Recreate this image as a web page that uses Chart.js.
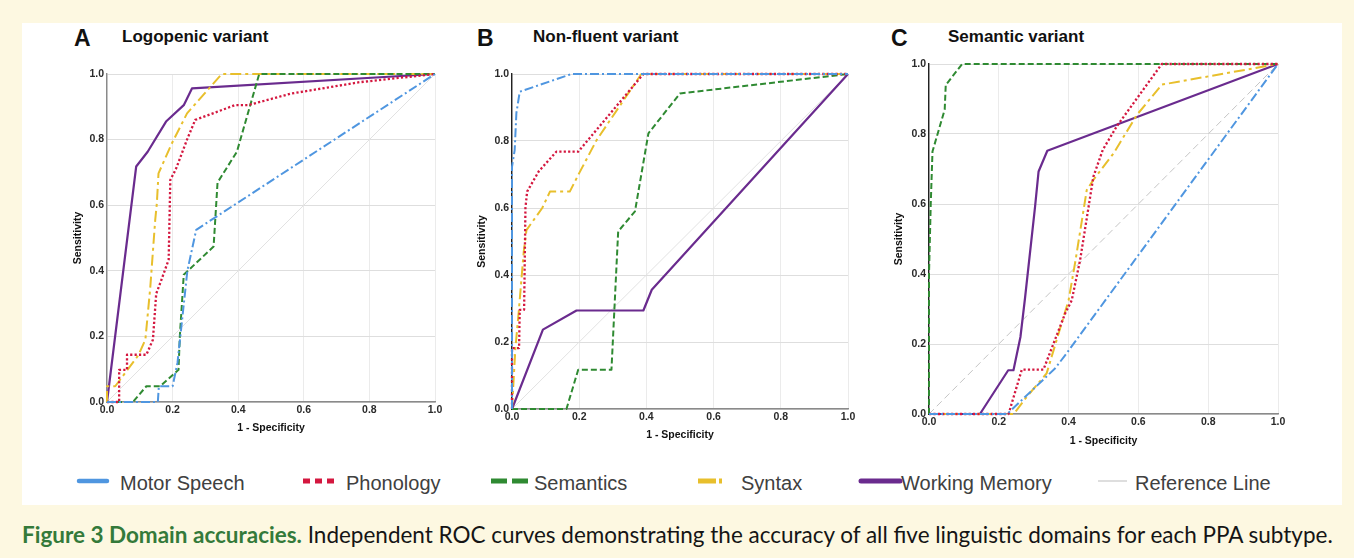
<!DOCTYPE html>
<html>
<head>
<meta charset="utf-8">
<script src="https://cdn.jsdelivr.net/npm/chart.js@4.4.1/dist/chart.umd.min.js"></script>
<style>
    html, body { margin: 0; padding: 0; }
    body { width: 1354px; height: 558px; background: #fdf8e1; position: relative; overflow: hidden;
           font-family: "Liberation Sans", Arial, sans-serif; }
    #panel { position: absolute; left: 22px; top: 23px; width: 1320px; height: 482px; background: #fff; }
    canvas { position: absolute; }
    .lbl { position: absolute; font-weight: bold; color: #111; white-space: nowrap; line-height: 1; }
    .letter { font-size: 23px; }
    .ttl { font-size: 17px; }
    .leg { position: absolute; top: 472px; font-size: 20px; color: #404040; line-height: 22px; white-space: nowrap; }
    svg.sw { position: absolute; top: 476px; overflow: visible; }
    #caption { position: absolute; left: 22px; top: 521px; font-family: Lato, "Open Sans", sans-serif;
               font-size: 19px; color: #151515; white-space: nowrap; }
    #caption b { color: #347a3a; }
</style>
</head>
<body>
<div id="panel"></div>

<div class="lbl letter" style="left:74px;top:27px;">A</div>
<div class="lbl ttl" style="left:122px;top:28px;">Logopenic variant</div>
<div class="lbl letter" style="left:477px;top:27px;">B</div>
<div class="lbl ttl" style="left:533px;top:28px;">Non-fluent variant</div>
<div class="lbl letter" style="left:891px;top:27px;">C</div>
<div class="lbl ttl" style="left:948px;top:28px;">Semantic variant</div>

<canvas id="chart-lv"></canvas>
<canvas id="chart-nf"></canvas>
<canvas id="chart-sv"></canvas>

<div id="legend"></div>

<div id="caption"><b>Figure 3 Domain accuracies.</b> Independent ROC curves demonstrating the accuracy of all five linguistic domains for each PPA subtype.</div>

<script>
// ── Data ──────────────────────────────────────────────────────────────
const domains    = ['Motor Speech', 'Phonology', 'Semantics', 'Syntax', 'Working Memory'];
const refLabel   = 'Reference Line';
const axisTicks  = [0, 0.2, 0.4, 0.6, 0.8, 1.0];
const tickLabels = ['0.0', '0.2', '0.4', '0.6', '0.8', '1.0'];
const refLine    = [[0, 0], [1, 1]];

// A — logopenic variant  ([1 - specificity, sensitivity])
const lvMotor  = [[0,0],[0.155,0],[0.158,0.048],[0.2,0.048],[0.215,0.12],[0.245,0.4],[0.272,0.525],[1,1]];
const lvPhono  = [[0,0],[0.037,0],[0.037,0.098],[0.061,0.098],[0.061,0.144],[0.12,0.144],[0.14,0.19],[0.15,0.33],
                  [0.165,0.37],[0.188,0.434],[0.193,0.677],[0.21,0.71],[0.244,0.8],[0.269,0.86],[0.39,0.905],
                  [0.43,0.905],[0.56,0.94],[0.77,0.975],[1,1]];
const lvSeman  = [[0,0],[0.079,0],[0.12,0.048],[0.162,0.048],[0.218,0.098],[0.222,0.2],[0.234,0.388],[0.325,0.474],
                  [0.337,0.669],[0.396,0.763],[0.464,1],[1,1]];
const lvSyntax = [[0,0],[0,0.048],[0.025,0.048],[0.096,0.143],[0.117,0.19],[0.132,0.35],[0.147,0.555],[0.152,0.606],
                  [0.157,0.697],[0.198,0.789],[0.244,0.88],[0.35,1],[1,1]];
const lvMemory = [[0,0],[0.089,0.718],[0.124,0.763],[0.18,0.855],[0.234,0.905],[0.259,0.956],[1,1]];

// B — non-fluent variant
const nfMotor  = [[0,0],[0,0.723],[0.008,0.773],[0.013,0.883],[0.023,0.947],[0.177,1],[1,1]];
const nfPhono  = [[0,0],[0,0.182],[0.021,0.182],[0.023,0.296],[0.036,0.296],[0.04,0.6],[0.045,0.649],[0.08,0.71],
                  [0.132,0.768],[0.197,0.768],[0.391,1],[1,1]];
const nfSeman  = [[0,0],[0.162,0],[0.197,0.117],[0.296,0.117],[0.316,0.53],[0.366,0.59],[0.406,0.823],[0.5,0.942],[1,1]];
const nfSyntax = [[0,0],[0.01,0.18],[0.02,0.29],[0.035,0.47],[0.043,0.534],[0.09,0.6],[0.113,0.649],[0.172,0.649],
                  [0.2,0.704],[0.252,0.803],[0.385,1],[1,1]];
const nfMemory = [[0,0],[0.092,0.237],[0.192,0.294],[0.391,0.294],[0.416,0.356],[1,1]];

// C — semantic variant
const svMotor  = [[0,0],[0.224,0],[0.361,0.13],[0.394,0.173],[1,1]];
const svPhono  = [[0,0],[0.228,0],[0.266,0.127],[0.328,0.127],[0.39,0.287],[0.409,0.325],[0.433,0.44],[0.471,0.678],
                  [0.498,0.755],[0.538,0.822],[0.667,1],[1,1]];
const svSeman  = [[0,0],[0,0.4],[0.005,0.6],[0.01,0.75],[0.045,0.87],[0.048,0.94],[0.095,1],[1,1]];
const svSyntax = [[0,0],[0.243,0],[0.28,0.049],[0.337,0.116],[0.4,0.325],[0.42,0.44],[0.452,0.64],[0.471,0.669],
                  [0.529,0.745],[0.596,0.855],[0.667,0.941],[1,1]];
const svMemory = [[0,0],[0.146,0],[0.227,0.125],[0.242,0.125],[0.262,0.22],[0.275,0.33],[0.304,0.593],[0.314,0.693],
                  [0.339,0.752],[1,1]];

// ── Styles ────────────────────────────────────────────────────────────
const FONT         = '"Liberation Sans", Arial, sans-serif';
const domainColors = ['#4f96e0', '#d4173f', '#2f8a32', '#e8bf2c', '#6a2b8e'];
const domainDashes = [[9, 3, 2, 3], [2.2, 2.2], [6, 3], [11, 4, 3, 4], []];
const domainWidths = [2, 2.3, 2, 2, 2.2];

// ── Panels ────────────────────────────────────────────────────────────
function buildPanel(id, curves, g) {
    const el = document.getElementById(id);
    el.width = g.w; el.height = g.h;
    el.style.left = g.left + 'px'; el.style.top = g.top + 'px';

    const datasets = curves.map((pts, i) => ({
        label: domains[i],
        data: pts.map(p => ({ x: p[0], y: p[1] })),
        borderColor: domainColors[i],
        borderWidth: domainWidths[i],
        borderDash: domainDashes[i],
        borderCapStyle: 'butt',
        borderJoinStyle: 'round',
        showLine: true, pointRadius: 0, tension: 0, fill: false, clip: false
    }));
    datasets.push({
        label: refLabel,
        data: refLine.map(p => ({ x: p[0], y: p[1] })),
        borderColor: g.refColor, borderWidth: 1, borderDash: g.refDash,
        showLine: true, pointRadius: 0, fill: false, order: 10
    });

    const tickFont  = { size: 10.5, weight: 'bold', family: FONT };
    const titleFont = { size: 10.5, weight: 'bold', family: FONT };
    const setTicks  = s => { s.ticks = axisTicks.map(v => ({ value: v })); };

    return new Chart(el, {
        type: 'scatter',
        data: { datasets },
        options: {
            responsive: false, animation: false, events: [],
            layout: { padding: { top: g.pt, right: g.pr, left: 0, bottom: 0 } },
            plugins: { legend: { display: false }, tooltip: { enabled: false } },
            scales: {
                x: {
                    type: 'linear', min: 0, max: 1,
                    afterBuildTicks: setTicks,
                    afterFit: s => { s.height = g.hx; },
                    ticks: { callback: (v, i) => tickLabels[i], padding: 2, color: '#2a2a2a', font: tickFont,
                             maxRotation: 0, autoSkip: false },
                    grid: { color: '#ebebeb', drawTicks: false },
                    border: { color: '#8a8a8a', width: 1.6 },
                    title: { display: true, text: '1 - Specificity', color: '#111', font: titleFont,
                             padding: { top: 0, bottom: g.xtp } }
                },
                y: {
                    type: 'linear', min: 0, max: 1,
                    afterBuildTicks: setTicks,
                    afterFit: s => { s.width = g.wy; },
                    ticks: { callback: (v, i) => tickLabels[i], padding: 3, color: '#2a2a2a', font: tickFont },
                    grid: { color: '#dedede', drawTicks: false },
                    border: { color: g.yAxisColor, width: 1.4 },
                    title: { display: true, text: 'Sensitivity', color: '#111', font: titleFont,
                             padding: { top: g.ytp, bottom: 0 } }
                }
            }
        }
    });
}

buildPanel('chart-lv', [lvMotor, lvPhono, lvSeman, lvSyntax, lvMemory],
    { left: 60, top: 56, w: 390, h: 384, pt: 18, pr: 15, wy: 47, hx: 38, ytp: 11.5, xtp: 5.5,
      yAxisColor: '#8a8a8a', refColor: '#e2e2e2', refDash: [] });
buildPanel('chart-nf', [nfMotor, nfPhono, nfSeman, nfSyntax, nfMemory],
    { left: 465, top: 56, w: 400, h: 394, pt: 18, pr: 17, wy: 47, hx: 41, ytp: 11, xtp: 8.5,
      yAxisColor: '#222', refColor: '#e2e2e2', refDash: [] });
buildPanel('chart-sv', [svMotor, svPhono, svSeman, svSyntax, svMemory],
    { left: 880, top: 50, w: 420, h: 402, pt: 14, pr: 22, wy: 49, hx: 38, ytp: 12.5, xtp: 4.5,
      yAxisColor: '#222', refColor: '#c4c4c4', refDash: [7, 4] });

// ── Legend (HTML) ─────────────────────────────────────────────────────
const legendItems = [
    { text: domains[0], x: 120,  sx: 79,   sl: 28, c: domainColors[0], w: 4.5, dash: '',          cap: 'round' },
    { text: domains[1], x: 346,  sx: 303,  sl: 34, c: domainColors[1], w: 5,   dash: '7 5',       cap: 'butt' },
    { text: domains[2], x: 534,  sx: 491,  sl: 37, c: domainColors[2], w: 5,   dash: '16 5',      cap: 'butt' },
    { text: domains[3], x: 741,  sx: 698,  sl: 25, c: domainColors[3], w: 5,   dash: '18 3 3 20', cap: 'butt' },
    { text: domains[4], x: 901,  sx: 861,  sl: 39, c: domainColors[4], w: 5,   dash: '',          cap: 'round' },
    { text: refLabel,   x: 1135, sx: 1098, sl: 29, c: '#c8c8c8',       w: 1.2, dash: '',          cap: 'butt' }
];
const legend = document.getElementById('legend');
legendItems.forEach(it => {
    const t = document.createElement('div');
    t.className = 'leg';
    t.style.left = it.x + 'px';
    t.textContent = it.text;
    legend.appendChild(t);
    legend.insertAdjacentHTML('beforeend',
        `<svg class="sw" style="left:${it.sx}px" width="${it.sl}" height="10">` +
        `<line x1="0" y1="5" x2="${it.sl}" y2="5" stroke="${it.c}" stroke-width="${it.w}" ` +
        `stroke-linecap="${it.cap}" stroke-dasharray="${it.dash}"/></svg>`);
});

// ── Caption width fit ─────────────────────────────────────────────────
const cap = document.getElementById('caption');
const cw  = cap.getBoundingClientRect().width;
cap.style.fontSize = (19 * 1311 / cw).toFixed(2) + 'px';
</script>
</body>
</html>
